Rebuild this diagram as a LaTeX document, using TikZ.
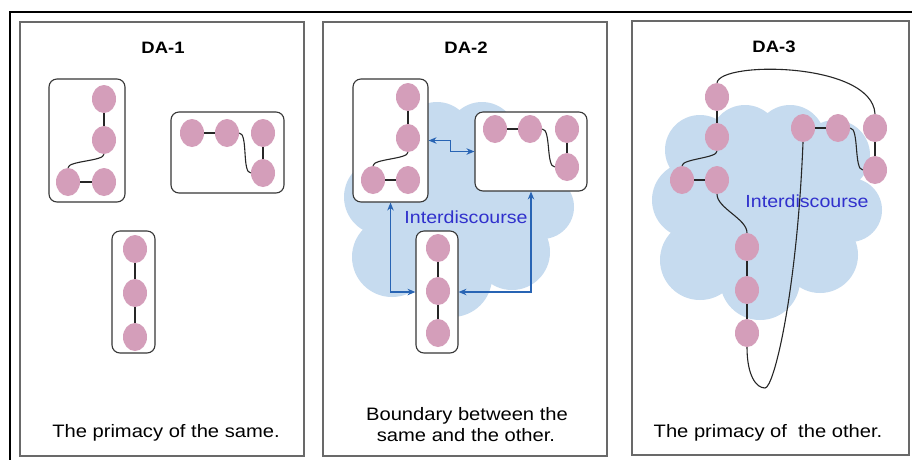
\documentclass[tikz,border=0pt]{standalone}
\usepackage{fontspec}
\setmainfont{Liberation Sans}[FakeStretch=1.12]
\usetikzlibrary{shapes.geometric,arrows.meta}

\definecolor{pinkdot}{RGB}{212,158,186}
\definecolor{cloudblue}{RGB}{198,219,239}
\definecolor{textblue}{RGB}{48,48,204}
\definecolor{arrowblue}{RGB}{40,100,180}
\definecolor{boxline}{RGB}{55,55,55}
\definecolor{panelgrey}{RGB}{105,105,105}

% a bumpy cloud built from overlapping discs, shifted by (#1,#2)
\newcommand\drawcloud[2]{%
  \fill[cloudblue, shift={(#1,#2)}]
    (700,150) circle (35pt) (745,140) circle (35pt) (790,140) circle (35pt)
    (835,155) circle (35pt) (690,200) circle (38pt) (850,210) circle (32pt)
    (700,260) circle (40pt) (760,280) circle (40pt) (820,255) circle (38pt)
    (770,205) circle (55pt) (820,195) circle (32pt) (730,230) circle (40pt);}

\tikzset{
  dot/.style={ellipse, fill=pinkdot, minimum width=24pt, minimum height=28pt, inner sep=0pt},
  grp/.style={draw=boxline, fill=white, rounded corners=8pt, line width=1.1pt, inner sep=0pt},
  link/.style={draw=black!85, line width=1.1pt},
  panel/.style={draw=panelgrey, line width=1.6pt},
  title/.style={anchor=base, font=\fontsize{16.5}{19}\selectfont\bfseries},
  caption/.style={anchor=base, font=\fontsize{18}{21}\selectfont},
  inter/.style={anchor=base, text=textblue, font=\fontsize{17.5}{20}\selectfont},
  biarrow/.style={draw=arrowblue, line width=1.1pt,
    arrows={Stealth[length=8pt,width=6.5pt]-Stealth[length=8pt,width=6.5pt]}},
}

\begin{document}
\begin{tikzpicture}[x=1pt, y=-1pt]
\useasboundingbox (0,0) rectangle (912,459);
\fill[white] (0,0) rectangle (912,459);

% outer frame
\draw[black, line width=2pt] (10,462) -- (10,12) -- (915,12);

% panels
\draw[panel] (20,22) rectangle (304,456);
\draw[panel] (323,22) rectangle (607,456);
\draw[panel] (632,21) rectangle (909,455);

% ---------------- DA-1 ----------------
\node[title] (t1) at (163,53) {DA-1};
\node[caption] (c1) at (166,437) {The primacy of the same.};

\node[grp, minimum width=76pt, minimum height=123pt] (gA1) at (87,140.5) {};
\node[grp, minimum width=113pt, minimum height=81pt] (gB1) at (227.5,152.5) {};
\node[grp, minimum width=43pt, minimum height=122pt] (gC1) at (133.5,292) {};

\node[dot] (a11) at (104,99) {};
\node[dot] (a12) at (104,140) {};
\node[dot] (a13) at (68,182) {};
\node[dot] (a14) at (104,182) {};
\node[dot] (b11) at (192,133) {};
\node[dot] (b12) at (227,133) {};
\node[dot] (b13) at (263,133) {};
\node[dot] (b14) at (263,173) {};
\node[dot] (c11) at (135,249) {};
\node[dot] (c12) at (135,293) {};
\node[dot] (c13) at (135,337) {};

\draw[link] (a11) -- (a12);
\draw[link] (a12.south) .. controls +(0,7) and +(0,-7) .. (a13.north);
\draw[link] (a13) -- (a14);
\draw[link] (b11) -- (b12);
\draw[link] (b12.east) .. controls +(9,0) and +(-9,0) .. (b14.west);
\draw[link] (b13) -- (b14);
\draw[link] (c11) -- (c12);
\draw[link] (c12) -- (c13);

% ---------------- DA-2 ----------------
\drawcloud{-308}{-3}
\node[title] (t2) at (466,53) {DA-2};
\node[caption] (c2a) at (467,420) {Boundary between the};
\node[caption] (c2b) at (466,441) {same and the other.};

\node[grp, minimum width=75pt, minimum height=123pt] (gA2) at (390.5,140.5) {};
\node[grp, minimum width=112pt, minimum height=79pt] (gB2) at (531,151.5) {};
\node[grp, minimum width=42pt, minimum height=122pt] (gC2) at (437,292) {};
\node[inter] (i2) at (466,223) {Interdiscourse};

\node[dot] (a21) at (408,97) {};
\node[dot] (a22) at (408,138) {};
\node[dot] (a23) at (373,180) {};
\node[dot] (a24) at (408,180) {};
\node[dot] (b21) at (495,129) {};
\node[dot] (b22) at (530,129) {};
\node[dot] (b23) at (567,129) {};
\node[dot] (b24) at (567,167) {};
\node[dot] (c21) at (438,248) {};
\node[dot] (c22) at (438,291) {};
\node[dot] (c23) at (438,333) {};

\draw[link] (a21) -- (a22);
\draw[link] (a22.south) .. controls +(0,7) and +(0,-7) .. (a23.north);
\draw[link] (a23) -- (a24);
\draw[link] (b21) -- (b22);
\draw[link] (b22.east) .. controls +(9,0) and +(-9,0) .. (b24.west);
\draw[link] (b23) -- (b24);
\draw[link] (c21) -- (c22);
\draw[link] (c22) -- (c23);

\draw[biarrow] (gA2.east) -- ++(22,0) |- (gB2.west);
\draw[biarrow] (gA2.south) |- (gC2.west);
\draw[biarrow] (gB2.south) |- (gC2.east);

% ---------------- DA-3 ----------------
\drawcloud{0}{0}
\node[title] (t3) at (774,52) {DA-3};
\node[caption] (c3) at (768,437) {The primacy of\ \ the other.};
\node[inter] (i3) at (807,207) {Interdiscourse};

\node[dot] (p1) at (717,97) {};
\node[dot] (p2) at (717,137) {};
\node[dot] (p3) at (682,180) {};
\node[dot] (p4) at (717,180) {};
\node[dot] (p5) at (747,247) {};
\node[dot] (p6) at (747,290) {};
\node[dot] (p7) at (747,333) {};
\node[dot] (q1) at (803,128) {};
\node[dot] (q2) at (838,128) {};
\node[dot] (q3) at (875,128) {};
\node[dot] (q4) at (875,170) {};
\coordinate (loopbottom) at (765,388);

\draw[link] (p1) -- (p2);
\draw[link] (p2.south) .. controls +(0,7) and +(0,-7) .. (p3.north);
\draw[link] (p3) -- (p4);
\draw[link] (p4.south) .. controls +(0,14) and +(0,-14) .. (p5.north);
\draw[link] (p5) -- (p6);
\draw[link] (p6) -- (p7);
\draw[link] (q1) -- (q2);
\draw[link] (q2.east) .. controls +(9,0) and +(-9,0) .. (q4.west);
\draw[link] (q3) -- (q4);
\draw[link] (p1.north) .. controls +(3,-22) and +(-3,-52) .. (q3.north);
\draw[link] (p7.south) .. controls +(0,28) and +(-9,0) .. (loopbottom)
  .. controls +(9,0) and +(-6,150) .. (q1.south);
\end{tikzpicture}
\end{document}
